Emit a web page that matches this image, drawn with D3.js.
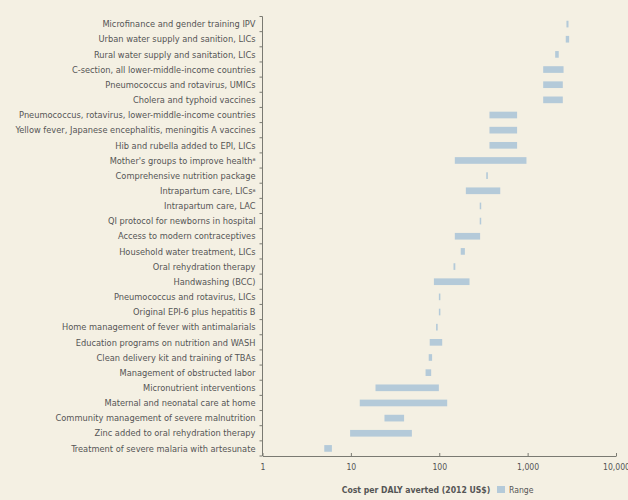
<!DOCTYPE html>
<html>
<head>
<meta charset="utf-8">
<script src="https://cdn.jsdelivr.net/npm/d3@7"></script>
<style>
  body { margin: 0; background: #f4f0e3; }
  svg { display: block; }
  text { font-family: "Liberation Sans Narrow", "DejaVu Sans Condensed", sans-serif; fill: #555; }
</style>
</head>
<body>
<svg id="chart"></svg>
<script>
var categories = [
  "Microfinance and gender training IPV",
  "Urban water supply and sanition, LICs",
  "Rural water supply and sanitation, LICs",
  "C-section, all lower-middle-income countries",
  "Pneumococcus and rotavirus, UMICs",
  "Cholera and typhoid vaccines",
  "Pneumococcus, rotavirus, lower-middle-income countries",
  "Yellow fever, Japanese encephalitis, meningitis A vaccines",
  "Hib and rubella added to EPI, LICs",
  "Mother's groups to improve health",
  "Comprehensive nutrition package",
  "Intrapartum care, LICs",
  "Intrapartum care, LAC",
  "QI protocol for newborns in hospital",
  "Access to modern contraceptives",
  "Household water treatment, LICs",
  "Oral rehydration therapy",
  "Handwashing (BCC)",
  "Pneumococcus and rotavirus, LICs",
  "Original EPI-6 plus hepatitis B",
  "Home management of fever with antimalarials",
  "Education programs on nutrition and WASH",
  "Clean delivery kit and training of TBAs",
  "Management of obstructed labor",
  "Micronutrient interventions",
  "Maternal and neonatal care at home",
  "Community management of severe malnutrition",
  "Zinc added to oral rehydration therapy",
  "Treatment of severe malaria with artesunate"
];
// superscript note markers
var notes = ["", "", "", "", "", "", "", "", "", "a", "", "a", "", "", "", "", "", "", "", "", "", "", "", "", "", "", "", "", ""];

var lowValues  = [2750, 2700, 2050, 1500, 1500, 1500, 370, 370, 370, 150, 340, 200, 287, 287, 150, 175, 145, 87, 99, 99, 92, 78, 76, 70, 19, 12.6, 24, 9.8, 5];
var highValues = [2900, 2950, 2250, 2550, 2500, 2500, 760, 760, 760, 970, 355, 490, 298, 298, 290, 195, 152, 220, 103, 103, 96, 108, 83, 81, 99, 123, 40, 49, 6.1];

var tickValues = [1, 10, 100, 1000, 10000];

var width = 628, height = 500;
var margin = { top: 16.5, bottom: 44, left: 262.5, right: 12 };

var svg = d3.select('#chart')
            .attr('width', width)
            .attr('height', height);

var xScale = d3.scaleLog()
               .domain([1, 10000])
               .range([margin.left, width - margin.right]);

var yScale = d3.scaleBand()
               .domain(categories)
               .range([margin.top, height - margin.bottom])
               .paddingInner(0.56)
               .paddingOuter(0.28);

var data = categories.map(function(c, i){
  return { name: c, note: notes[i], lo: lowValues[i], hi: highValues[i] };
});

// bars
svg.append('g')
   .selectAll('rect')
   .data(data)
   .enter()
   .append('rect')
   .attr('x', function(d){ return xScale(d.lo); })
   .attr('width', function(d){ return Math.max(1.5, xScale(d.hi) - xScale(d.lo)); })
   .attr('y', function(d){ return yScale(d.name); })
   .attr('height', yScale.bandwidth())
   .style('fill', '#b4cad9');

// y axis: line, ticks between rows, labels
var yTop = margin.top, yBot = height - margin.bottom;
var axisCol = '#7a7a72';
svg.append('line')
   .attr('x1', margin.left).attr('x2', margin.left)
   .attr('y1', yTop).attr('y2', yBot)
   .style('stroke', axisCol).style('stroke-width', 1);

var step = yScale.step();
var bounds = d3.range(categories.length + 1).map(function(i){ return yTop + i * step; });
svg.append('g')
   .selectAll('line')
   .data(bounds)
   .enter()
   .append('line')
   .attr('x1', margin.left - 3).attr('x2', margin.left)
   .attr('y1', function(d){ return d; }).attr('y2', function(d){ return d; })
   .style('stroke', axisCol).style('stroke-width', 1);

var labels = svg.append('g')
   .selectAll('text')
   .data(data)
   .enter()
   .append('text')
   .attr('x', margin.left - 7)
   .attr('y', function(d){ return yScale(d.name) + yScale.bandwidth() / 2; })
   .attr('dy', '0.35em')
   .attr('text-anchor', 'end')
   .style('font-size', '9.2px');
labels.append('tspan').text(function(d){ return d.name; });
labels.filter(function(d){ return d.note; })
      .append('tspan')
      .attr('dy', '-0.4em')
      .style('font-size', '5.5px')
      .text(function(d){ return d.note; });

// x axis
var xAxis = d3.axisBottom(xScale)
              .tickValues(tickValues)
              .tickSize(0)
              .tickPadding(8)
              .tickFormat(d3.format(','));

var gx = svg.append('g')
   .attr('class', 'x_axis')
   .attr('transform', 'translate(0,' + yBot + ')')
   .call(xAxis);
gx.select('.domain').style('stroke', axisCol);
gx.selectAll('.tick text')
  .style('font-size', '8.6px')
  .style('font-family', '"DejaVu Sans Condensed", sans-serif')
  .style('fill', '#555');
gx.selectAll('.tick')
  .append('line')
  .attr('y1', 0).attr('y2', -3)
  .style('stroke', axisCol);

// axis title and legend
svg.append('text')
   .attr('x', 416)
   .attr('y', 493)
   .attr('text-anchor', 'middle')
   .style('font-size', '8.6px')
   .style('font-weight', 'bold')
   .style('fill', '#555')
   .text('Cost per DALY averted (2012 US$)');

svg.append('rect')
   .attr('x', 497).attr('y', 486)
   .attr('width', 8).attr('height', 7)
   .style('fill', '#b4cad9');

svg.append('text')
   .attr('x', 509)
   .attr('y', 493)
   .style('font-size', '8.6px')
   .text('Range');
</script>
</body>
</html>
